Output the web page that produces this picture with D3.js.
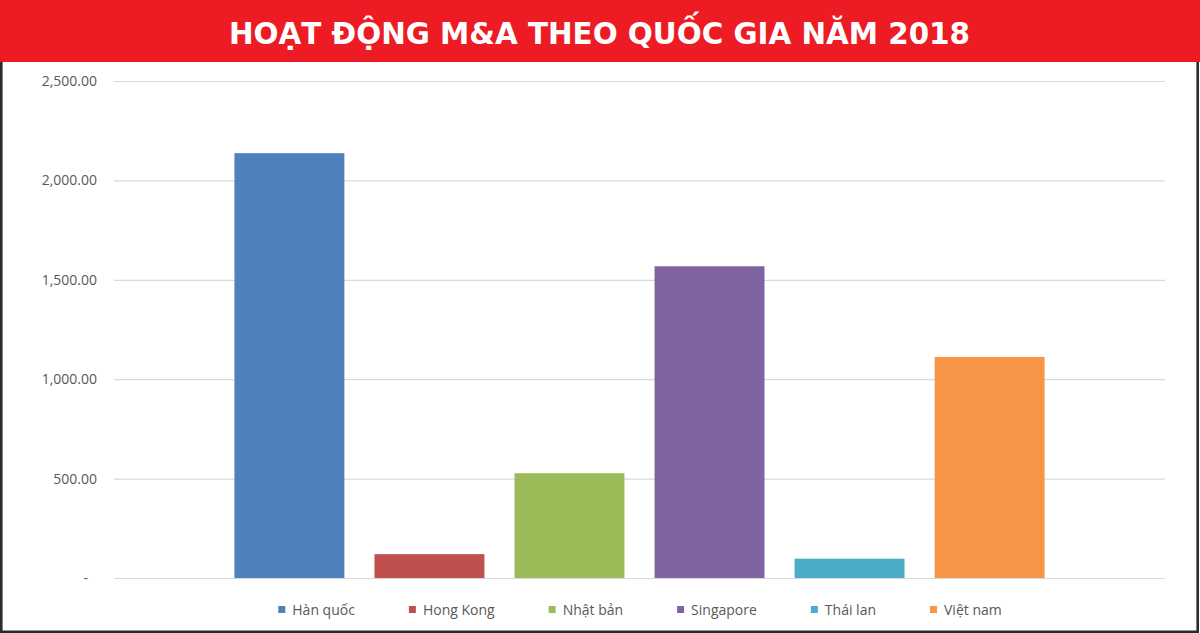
<!DOCTYPE html>
<html>
<head>
<meta charset="utf-8">
<script src="https://cdn.jsdelivr.net/npm/d3@7"></script>
<style>
  body { margin: 0; background: #fff; }
  svg { display: block; }
  .tick text { font-family: "Open Sans", "Noto Sans", sans-serif; font-size: 14px; fill: #595959; }
  .legend text { font-family: "Open Sans", "Noto Sans", sans-serif; font-size: 14px; fill: #595959; }
</style>
</head>
<body>
<div id="chart"></div>
<script>
var TITLE = "HOẠT ĐỘNG M&A THEO QUỐC GIA NĂM 2018";

var countries = ["Hàn quốc", "Hong Kong", "Nhật bản", "Singapore", "Thái lan", "Việt nam"];
var values = [2137, 120, 527, 1568, 97, 1112];
var colors = ["#4F81BD", "#C0504D", "#9BBB59", "#8064A2", "#4BACC6", "#F79646"];
var yTicks = [0, 500, 1000, 1500, 2000, 2500];

var W = 1200, H = 633;
var margin = {top: 81, right: 35, bottom: 55, left: 114};
var headerH = 62;

var svg = d3.select("#chart").append("svg")
    .attr("width", W)
    .attr("height", H);

// red header
svg.append("rect")
    .attr("x", 0).attr("y", 0)
    .attr("width", W).attr("height", headerH)
    .attr("fill", "#ED1C24");

var title = svg.append("text")
    .attr("x", 229)
    .attr("y", 43.5)
    .attr("fill", "#fff")
    .style("font-family", "'Liberation Sans Narrow', 'DejaVu Sans Condensed', 'DejaVu Sans', sans-serif")
    .style("font-weight", "bold")
    .style("font-size", "30px")
    .text(TITLE);
title.attr("textLength", 741).attr("lengthAdjust", "spacingAndGlyphs");

// frame
svg.append("path")
    .attr("d", "M1.3," + headerH + "V631.7H1197.7V" + headerH)
    .attr("fill", "none")
    .attr("stroke", "#2b2b2b")
    .attr("stroke-width", 2.6);

var y = d3.scaleLinear()
    .domain([0, 2500])
    .range([578, 81]);

var x = d3.scaleBand()
    .domain(countries)
    .range([margin.left, W - margin.right])
    .paddingInner(0.215)
    .paddingOuter(0.86);

// gridlines + labels
var yAxis = d3.axisLeft(y)
    .tickValues(yTicks)
    .tickSize(-(W - margin.right - margin.left))
    .tickPadding(17)
    .tickFormat(function(d) { return d === 0 ? "-" : d3.format(",.2f")(d); });

var ga = svg.append("g")
    .attr("transform", "translate(" + margin.left + ",0)")
    .call(yAxis);
ga.select(".domain").remove();
ga.selectAll(".tick line").attr("stroke", "#D9D9D9").attr("stroke-width", 1.2);
ga.selectAll(".tick text").filter(function(d) { return d === 0; }).attr("dx", -9);

// bars
svg.append("g").selectAll("rect")
    .data(countries)
  .enter().append("rect")
    .attr("x", function(d) { return x(d); })
    .attr("width", x.bandwidth())
    .attr("y", function(d, i) { return y(values[i]); })
    .attr("height", function(d, i) { return y(0) - y(values[i]); })
    .attr("fill", function(d, i) { return colors[i]; });

// legend
var legend = svg.append("g").attr("class", "legend");
var items = legend.selectAll("g")
    .data(countries)
  .enter().append("g");
items.append("rect")
    .attr("width", 7).attr("height", 7)
    .attr("y", 606)
    .attr("fill", function(d, i) { return colors[i]; });
items.append("text")
    .attr("x", 14)
    .attr("y", 614.5)
    .text(function(d) { return d; });

var gap = 54, pos = 0, offsets = [];
items.each(function(d) {
  offsets.push(pos);
  pos += 14 + this.querySelector("text").getComputedTextLength() + gap;
});
var total = pos - gap;
var start = 640 - total / 2;
items.attr("transform", function(d, i) { return "translate(" + (start + offsets[i]) + ",0)"; });
</script>
</body>
</html>
